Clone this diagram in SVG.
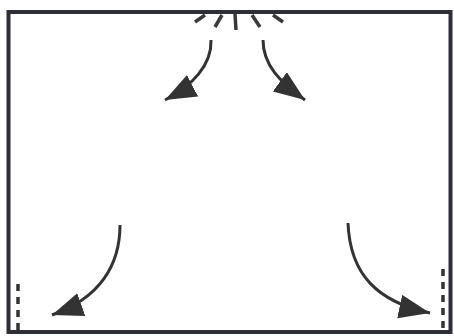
<svg xmlns="http://www.w3.org/2000/svg" width="454" height="336" viewBox="0 0 454 336">
<style>
.frame{fill:#fff;stroke:#2e2e38;stroke-width:4}
.ray{stroke:#3a3a3a;stroke-width:3.5;stroke-linecap:butt}
.arr{fill:none;stroke:#333;stroke-width:3;marker-end:url(#head)}
.dash{stroke:#333;stroke-width:3.5;stroke-dasharray:7 6}
</style>
<defs>
<marker id="head" markerUnits="userSpaceOnUse" markerWidth="34" markerHeight="26" refX="31" refY="12" orient="auto">
<path d="M0,0 L31,12 L0,24 Z" fill="#333"/>
</marker>
</defs>
<rect x="0" y="0" width="454" height="336" fill="#fff"/>
<g id="frame"><rect class="frame" x="8.5" y="12" width="442" height="320"/></g>
<g id="vent">
<line class="ray" x1="205" y1="15" x2="195" y2="22"/>
<line class="ray" x1="222" y1="15" x2="215" y2="27"/>
<line class="ray" x1="235" y1="14" x2="236" y2="30"/>
<line class="ray" x1="252" y1="15" x2="260" y2="27"/>
<line class="ray" x1="273" y1="15" x2="283" y2="22"/>
</g>
<g id="openings">
<line class="dash" x1="18" y1="284" x2="18" y2="330"/>
<line class="dash" x1="443" y1="269" x2="443" y2="330"/>
</g>
<g id="connectors">
<path class="arr" d="M211,40 C212,65 192,86 165,100"/>
<path class="arr" d="M263,40 C263,65 280,82 305,100"/>
<path class="arr" d="M120,225 C120,265 100,298 52,315"/>
<path class="arr" d="M348,223 C350,275 378,302 430,313"/>
</g>
</svg>
